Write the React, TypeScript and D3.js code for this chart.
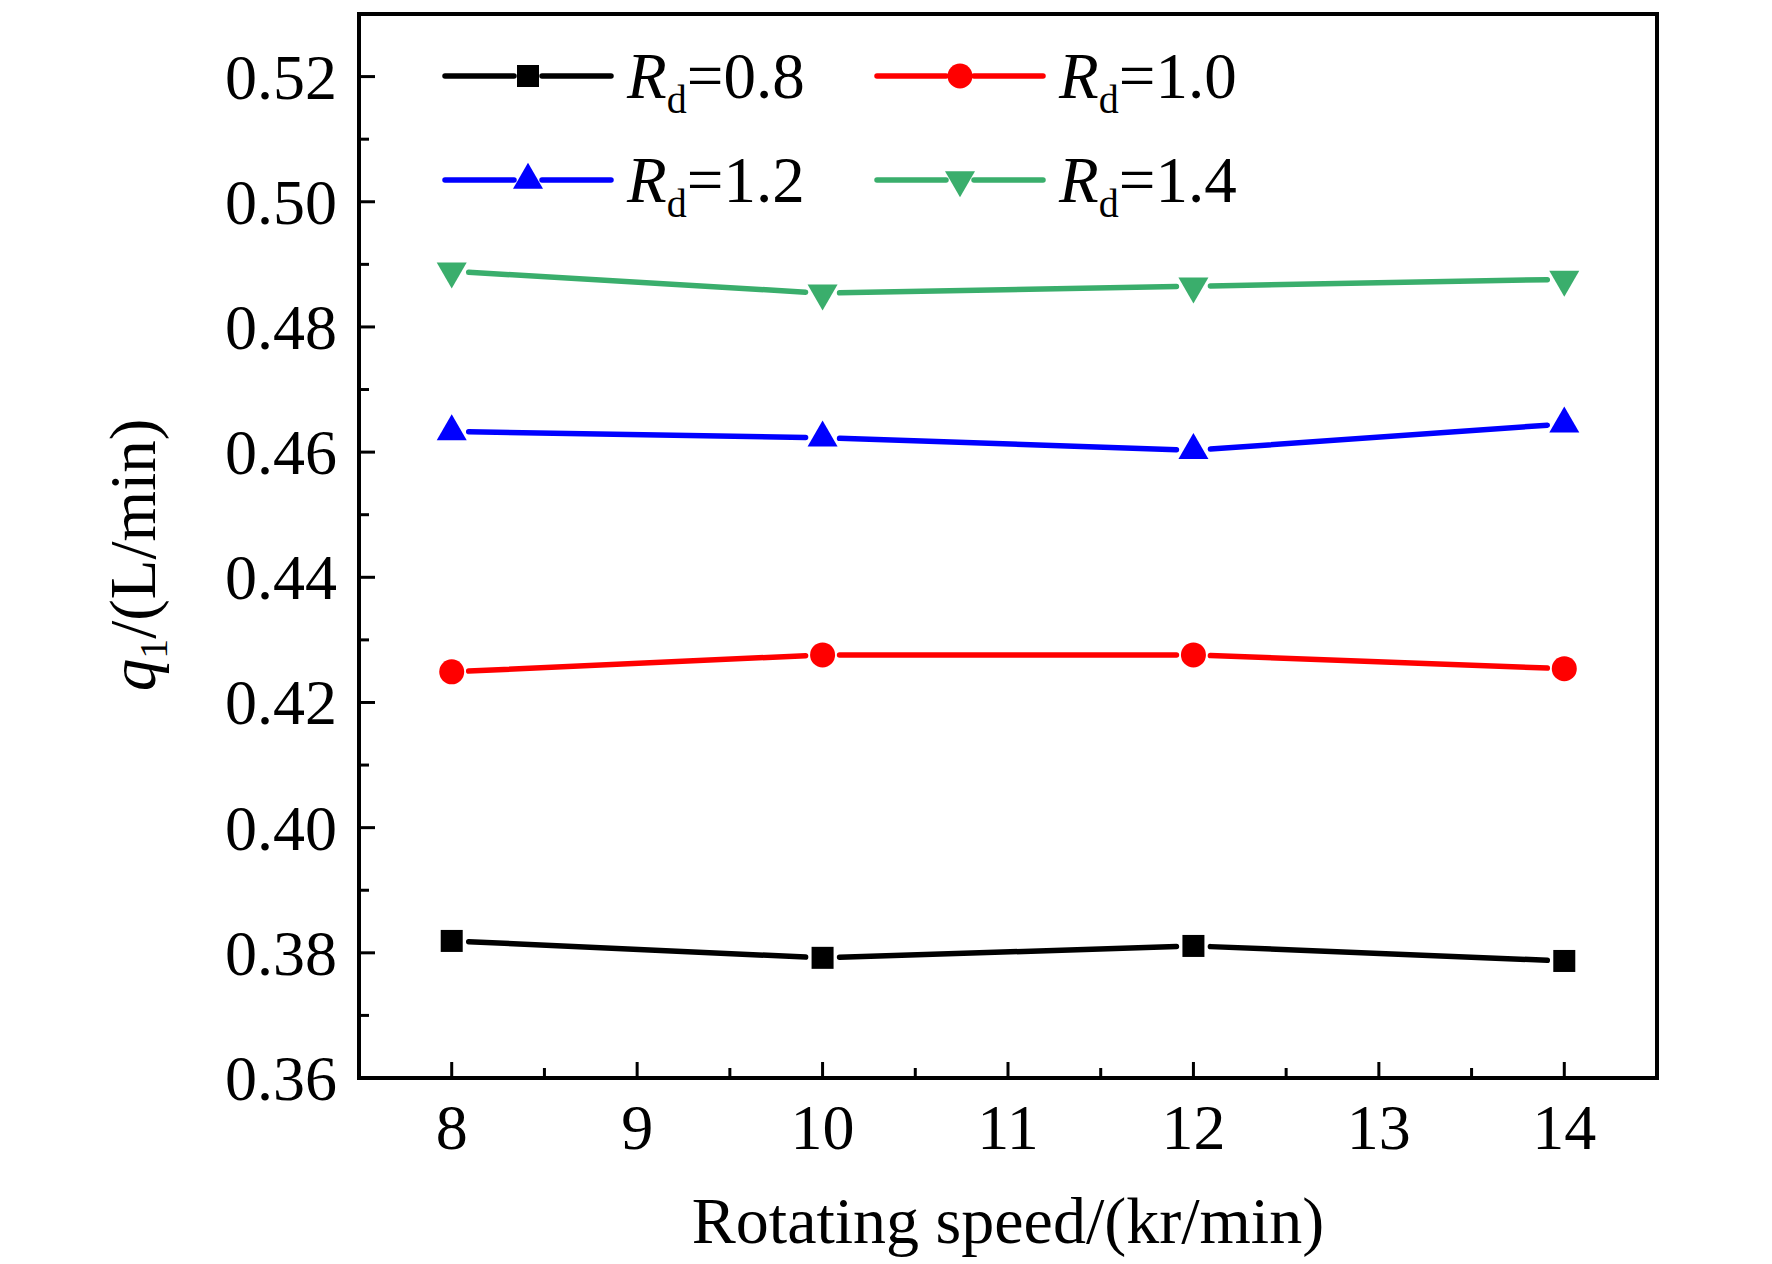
import React from "react";
import * as d3 from "d3";

const speeds = [8, 10, 12, 14];
const rd08 = [0.3819, 0.3792, 0.3811, 0.3787];
const rd10 = [0.4249, 0.4276, 0.4276, 0.4254];
const rd12 = [0.4633, 0.4623, 0.4603, 0.4645];
const rd14 = [0.4889, 0.4854, 0.4865, 0.4876];
const seriesLabels = ["0.8", "1.0", "1.2", "1.4"];
const seriesColors = ["#000000", "#ff0000", "#0000ff", "#3aae6c"];
const seriesShapes = ["square", "circle", "up", "down"];
const xTickValues = [8, 9, 10, 11, 12, 13, 14];
const yTickValues = [0.36, 0.38, 0.4, 0.42, 0.44, 0.46, 0.48, 0.5, 0.52];

const W = 1772;
const H = 1264;
const L = 359, R = 1657, T = 14, B = 1078;
const FONT = "'Liberation Serif', 'Times New Roman', serif";

function Marker({ shape, x, y, color }: { shape: string; x: number; y: number; color: string }) {
  if (shape === "square") {
    return <rect x={x - 11} y={y - 11} width={22} height={22} fill={color} />;
  }
  if (shape === "circle") {
    return <circle cx={x} cy={y} r={12.5} fill={color} />;
  }
  const w = 30, h = 26;
  if (shape === "up") {
    const pts = `${x},${y - (2 * h) / 3} ${x - w / 2},${y + h / 3} ${x + w / 2},${y + h / 3}`;
    return <polygon points={pts} fill={color} />;
  }
  const pts = `${x},${y + (2 * h) / 3} ${x - w / 2},${y - h / 3} ${x + w / 2},${y - h / 3}`;
  return <polygon points={pts} fill={color} />;
}

export default function App() {
  const x = d3.scaleLinear().domain([7.5, 14.5]).range([L, R]);
  const y = d3.scaleLinear().domain([0.36, 0.53]).range([B, T]);
  const series = [rd08, rd10, rd12, rd14];

  const xMinor = d3.range(8.5, 14, 1);
  const yMinor = d3.range(0.37, 0.52, 0.02);

  const gap = 17;
  const segs = (vals: number[]) => {
    const out: { x1: number; y1: number; x2: number; y2: number }[] = [];
    for (let i = 0; i < vals.length - 1; i++) {
      const ax = x(speeds[i]), ay = y(vals[i]);
      const bx = x(speeds[i + 1]), by = y(vals[i + 1]);
      const len = Math.hypot(bx - ax, by - ay);
      const ux = (bx - ax) / len, uy = (by - ay) / len;
      out.push({ x1: ax + ux * gap, y1: ay + uy * gap, x2: bx - ux * gap, y2: by - uy * gap });
    }
    return out;
  };

  const legendCols = [445, 877];
  const legendRows = [76, 180];

  return (
    <svg width={W} height={H} style={{ position: "absolute", left: 0, top: 0, background: "#fff" }} fontFamily={FONT}>
      <rect x={0} y={0} width={W} height={H} fill="#fff" />
      {series.map((vals, si) => (
        <g key={si}>
          {segs(vals).map((s, i) => (
            <line key={i} x1={s.x1} y1={s.y1} x2={s.x2} y2={s.y2} stroke={seriesColors[si]} strokeWidth={5.5} strokeLinecap="round" />
          ))}
          {vals.map((v, i) => (
            <Marker key={i} shape={seriesShapes[si]} x={x(speeds[i])} y={y(v)} color={seriesColors[si]} />
          ))}
        </g>
      ))}
      <rect x={L} y={T} width={R - L} height={B - T} fill="none" stroke="#000" strokeWidth={4} />
      {xTickValues.map((t) => (
        <g key={"xt" + t}>
          <line x1={x(t)} x2={x(t)} y1={B} y2={B - 16} stroke="#000" strokeWidth={3} />
          <text x={x(t)} y={1149} fontSize={64} textAnchor="middle" fill="#000">{t}</text>
        </g>
      ))}
      {xMinor.map((t) => (
        <line key={"xm" + t} x1={x(t)} x2={x(t)} y1={B} y2={B - 10} stroke="#000" strokeWidth={3} />
      ))}
      {yTickValues.map((t) => (
        <g key={"yt" + t}>
          <line x1={L} x2={L + 16} y1={y(t)} y2={y(t)} stroke="#000" strokeWidth={3} />
          <text x={337} y={y(t) + 22} fontSize={64} textAnchor="end" fill="#000">{t.toFixed(2)}</text>
        </g>
      ))}
      {yMinor.map((t) => (
        <line key={"ym" + t} x1={L} x2={L + 10} y1={y(t)} y2={y(t)} stroke="#000" strokeWidth={3} />
      ))}
      <text x={(L + R) / 2} y={1243} fontSize={66} textAnchor="middle" fill="#000">Rotating speed/(kr/min)</text>
      <text transform={`translate(155,555) rotate(-90)`} fontSize={65} textAnchor="middle" fill="#000">
        <tspan fontStyle="italic">q</tspan>
        <tspan fontSize={40} dy={12}>1</tspan>
        <tspan dy={-12}>/(L/min)</tspan>
      </text>
      {seriesLabels.map((lab, i) => {
        const lx = legendCols[i % 2];
        const ly = legendRows[Math.floor(i / 2)];
        const cx = lx + 83;
        return (
          <g key={"lg" + i}>
            <line x1={lx} x2={cx - 14} y1={ly} y2={ly} stroke={seriesColors[i]} strokeWidth={5.5} strokeLinecap="round" />
            <line x1={cx + 14} x2={lx + 166} y1={ly} y2={ly} stroke={seriesColors[i]} strokeWidth={5.5} strokeLinecap="round" />
            <Marker shape={seriesShapes[i]} x={cx} y={ly} color={seriesColors[i]} />
            <text x={lx + 182} y={ly + 22} fontSize={65} fill="#000">
              <tspan fontStyle="italic">R</tspan>
              <tspan fontSize={40} dy={15}>d</tspan>
              <tspan dy={-15}>={lab}</tspan>
            </text>
          </g>
        );
      })}
    </svg>
  );
}
